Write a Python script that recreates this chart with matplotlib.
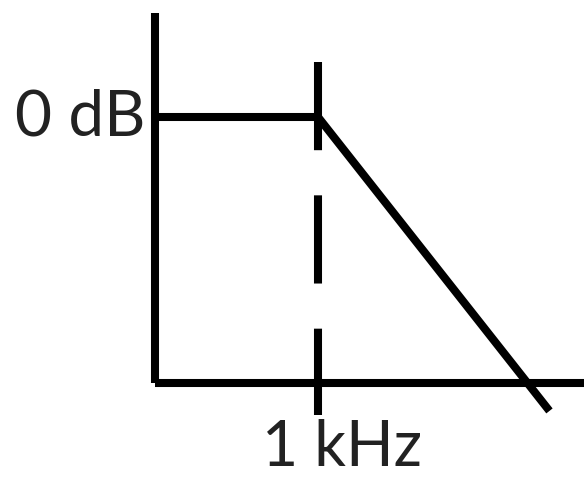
import matplotlib
matplotlib.use("Agg")
import matplotlib.pyplot as plt

plt.rcParams['lines.scale_dashes'] = False

# Conceptual units: x = decades relative to axis origin (corner at 1), y = gain (0 dB level at 0, axis at -1)
flat_x = [0.0, 1.0]
flat_y = [0.0, 0.0]
rolloff_x = [1.0, 2.42]
rolloff_y = [0.0, -1.105]
yaxis_x = [0.0, 0.0]
yaxis_y = [0.39, -1.0]
xaxis_x = [0.0, 2.64]
xaxis_y = [-1.0, -1.0]
corner_x = [1.0, 1.0]
corner_y = [0.207, -1.12]
label_gain = "0 dB"
label_freq = "1 kHz"

fig = plt.figure(figsize=(5.84, 4.82), dpi=100)
ax = fig.add_axes([0, 0, 1, 1])
ax.set_xlim(-155/163, (584-155)/163)
ax.set_ylim(-(482-117)/266, 117/266)
ax.axis('off')

lw = 5.8
ax.plot(yaxis_x, yaxis_y, color='black', lw=lw, solid_capstyle='butt')
ax.plot(xaxis_x, xaxis_y, color='black', lw=lw, solid_capstyle='butt')
ax.plot(flat_x, flat_y, color='black', lw=lw, solid_capstyle='butt')
ax.plot(rolloff_x, rolloff_y, color='black', lw=lw, solid_capstyle='butt')
ax.plot(corner_x, corner_y, color='black', lw=lw, linestyle=(0, (63.5, 32.5)), dash_capstyle='butt')

ax.text(-0.06, 0.0, label_gain, ha='right', va='center', fontsize=46, family='Lato', color='#222222')
ax.text(1.15, -1.245, label_freq, ha='center', va='center', fontsize=45, family='Lato', color='#222222')

fig.savefig('out.png', dpi=100)
